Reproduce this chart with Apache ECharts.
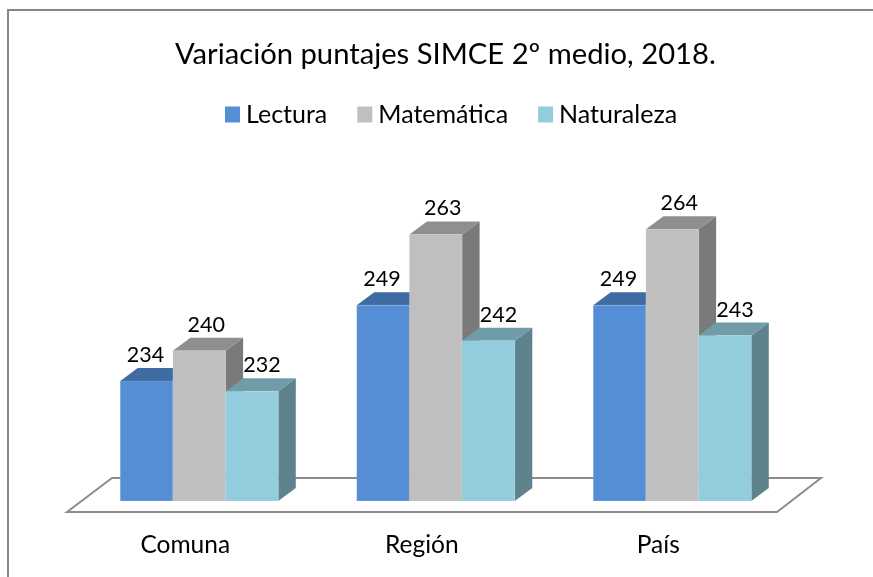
<!DOCTYPE html>
<html><head><meta charset="utf-8">
<style>html,body{margin:0;padding:0;background:#fff}#c{width:873px;height:577px}</style>
<script src="https://cdn.jsdelivr.net/npm/echarts@6/dist/echarts.min.js"></script>
</head><body><div id="c"></div>
<script>
var categories = ['Comuna', 'Región', 'País'];
var lectura = [234, 249, 249];
var matematica = [240, 263, 264];
var naturaleza = [232, 242, 243];
var seriesNames = ['Lectura', 'Matemática', 'Naturaleza'];
var titleText = 'Variación puntajes SIMCE 2º medio, 2018.';

var FONT = 'Lato';
var barFrac = 0.2228, depthX = 17.5, depthY = -13;
var palettes = [
  {front:'#558ED5', top:'#3F6CA3', side:'#3A6190', labelDx:-1},
  {front:'#BFBFBF', top:'#8F8F8F', side:'#7A7A7A', labelDx:7},
  {front:'#93CDDD', top:'#6F9CA8', side:'#5E838D', labelDx:10}
];
function renderer(idx){
  var p = palettes[idx];
  return function(params, api){
    var cat = api.value(0), val = api.value(1);
    var c = api.coord([cat, val]), b = api.coord([cat, 210.3]);
    var bw = api.size([1,0])[0]*barFrac;
    var x0 = c[0] + (idx-1.5)*bw, x1 = x0+bw, yt = c[1], yb = b[1];
    var stroke = {stroke:'rgba(255,255,255,0.12)', lineWidth:1};
    return {type:'group', children:[
      {type:'polygon', shape:{points:[[x1,yt],[x1+depthX,yt+depthY],[x1+depthX,yb+depthY],[x1,yb]]}, style:{fill:p.side}},
      {type:'polygon', shape:{points:[[x0,yt],[x0+depthX,yt+depthY],[x1+depthX,yt+depthY],[x1,yt]]}, style:{fill:p.top}},
      {type:'rect', shape:{x:x0,y:yt,width:bw,height:yb-yt}, style:Object.assign({fill:p.front},stroke)},
      {type:'text', x:x0+bw/2+p.labelDx, y:yt-26, z2:50, style:{text:String(val), fill:'#000', font:'21.5px '+FONT, align:'center', verticalAlign:'middle'}}
    ]};
  };
}
var dataSets = [lectura, matematica, naturaleza];
var chart = echarts.init(document.getElementById('c'), null, {renderer:'canvas'});
chart.setOption({
  animation:false,
  backgroundColor:'#fff',
  title:{text:titleText, left:170, top:35,
    textStyle:{fontFamily:FONT, fontSize:29.2, fontWeight:'normal', color:'#000'}},
  legend:{data:seriesNames, top:102, left:225, padding:0, itemWidth:15, itemHeight:16, itemGap:30, icon:'rect',
    textStyle:{fontFamily:FONT, fontSize:25, color:'#000', padding:[0,0,0,1]}},
  grid:{left:81, width:709.5, top:199, height:302},
  xAxis:{type:'category', data:categories, axisLine:{show:false}, axisTick:{show:false}, splitLine:{show:false},
    axisLabel:{margin:32, fontFamily:FONT, fontSize:24.5, color:'#000', padding:[0,28,0,0]}},
  yAxis:{type:'value', min:210.3, max:270, show:false},
  graphic:[
    {type:'polyline', shape:{points:[[8,577],[8,10],[873,10]]}, style:{stroke:'#868686', lineWidth:2, fill:null}},
    {type:'polygon', shape:{points:[[67,512],[112,478],[821,478],[777,512]]}, style:{stroke:'#8C8C8C', lineWidth:2, fill:'#fff'}}
  ],
  series:dataSets.map(function(d,i){
    return {type:'custom', name:seriesNames[i], coordinateSystem:'cartesian2d',
      itemStyle:{color:palettes[i].front}, encode:{x:0,y:1}, clip:false,
      renderItem:renderer(i), data:d.map(function(v,j){return [j,v];})};
  })
});
</script></body></html>
